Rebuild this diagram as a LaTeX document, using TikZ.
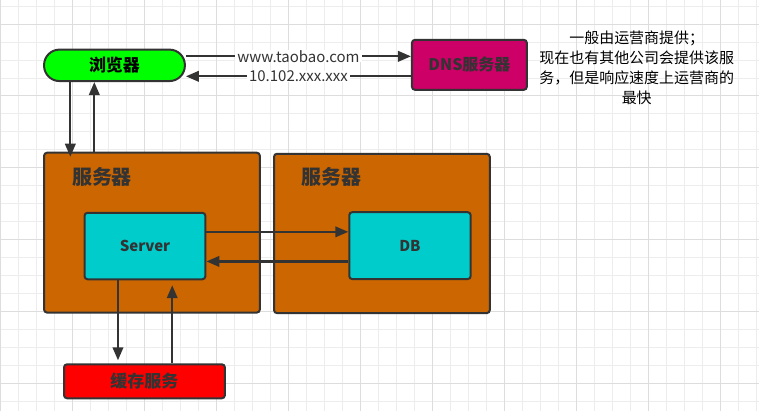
\documentclass[tikz,border=0pt]{standalone}
\usepackage{fontspec}
\setmainfont{Noto Sans CJK SC}
\usetikzlibrary{arrows.meta}
\definecolor{edge}{HTML}{333333}
\definecolor{browsergreen}{HTML}{00FF00}
\definecolor{dnspink}{HTML}{CC0066}
\definecolor{hostbrown}{HTML}{CC6600}
\definecolor{appcyan}{HTML}{00CCCC}
\definecolor{cachered}{HTML}{FF0000}
\definecolor{gridminor}{HTML}{EDEDED}
\definecolor{gridmajor}{HTML}{DDDDDD}

\begin{document}
\begin{tikzpicture}[x=1pt,y=-1pt,
        every node/.style = {inner sep=0pt, text=edge},
        block/.style = {draw=edge, line width=2pt, rounded corners=3pt,
                        font=\bfseries},
        flow/.style = {draw=edge, line width=2.2pt,
                       -{Triangle[length=13pt,width=10.5pt]}},
        tag/.style = {fill=white, inner xsep=2pt, font=\fontsize{15}{18}\selectfont}]
    % background and grid
    \fill[white] (0,0) rectangle (759,411);
    \foreach \i in {0,...,42}
        \draw[gridminor, line width=0.8pt] (0.3+18*\i,0) -- (0.3+18*\i,411);
    \foreach \j in {0,...,22}
        \draw[gridminor, line width=0.8pt] (0,5.6+18*\j) -- (759,5.6+18*\j);
    \foreach \i in {0,4,...,40}
        \draw[gridmajor, line width=0.8pt] (0.3+18*\i,0) -- (0.3+18*\i,411);
    \foreach \j in {1,5,...,21}
        \draw[gridmajor, line width=0.8pt] (0,5.6+18*\j) -- (759,5.6+18*\j);
    \useasboundingbox (0,0) rectangle (759,411);

    % nodes
    \node[block, fill=browsergreen, rounded corners=15.5pt, text=black,
          minimum width=141pt, minimum height=31.5pt,
          font=\bfseries\fontsize{17}{20}\selectfont] (browser) at (114.2,65) {浏览器};
    \node[block, fill=dnspink, minimum width=115pt, minimum height=50pt,
          font=\bfseries\fontsize{16}{20}\selectfont] (dns) at (469.5,64.5) {DNS服务器};
    \node[align=center, text=black, font=\fontsize{15}{20}\selectfont] (note) at (637,67.5)
        {一般由运营商提供；\\现在也有其他公司会提供该服\\务，但是响应速度上运营商的\\最快};
    \node[block, fill=hostbrown, minimum width=216pt, minimum height=160pt] (host1) at (151.7,232.5) {};
    \node[block, fill=hostbrown, minimum width=216pt, minimum height=159.5pt] (host2) at (381.9,233.3) {};
    \node[font=\bfseries\fontsize{20}{24}\selectfont] (hostlbl1) at (101.7,177) {服务器};
    \node[font=\bfseries\fontsize{20}{24}\selectfont] (hostlbl2) at (331.7,176.5) {服务器};
    \node[block, fill=appcyan, minimum width=121pt, minimum height=66.5pt,
          font=\bfseries\fontsize{15}{18}\selectfont] (server) at (144.7,245.9) {Server};
    \node[block, fill=appcyan, minimum width=121.5pt, minimum height=67pt,
          font=\bfseries\fontsize{15}{18}\selectfont] (db) at (410,245.5) {DB};
    \node[block, fill=cachered, minimum width=161pt, minimum height=34pt,
          font=\bfseries\fontsize{17}{20}\selectfont] (cache) at (144.2,381.3) {缓存服务};

    % connectors
    \draw[flow] ([yshift=9pt]browser.east) -- ([yshift=9pt]browser.east -| dns.west)
        node[tag, midway] {www.taobao.com};
    \draw[flow] ([yshift=-11.5pt]dns.west) -- ([yshift=-11.5pt]dns.west -| browser.east)
        node[tag, midway] {10.102.xxx.xxx};
    \draw[flow, shorten >=-5pt] ([xshift=-44.2pt]browser.south) -- ([xshift=-44.2pt]browser.south |- host1.north);
    \draw[flow] ([xshift=-20.2pt]browser.south |- host1.north) -- ([xshift=-20.2pt]browser.south);
    \draw[flow] ([yshift=14.2pt]server.east) -- ([yshift=14.2pt]server.east -| db.west);
    \draw[flow] ([yshift=-15.8pt]db.west) -- ([yshift=-15.8pt]db.west -| server.east);
    \draw[flow, shorten >=3pt] ([xshift=-27pt]server.south) -- ([xshift=-27pt]server.south |- cache.north);
    \draw[flow, shorten >=5pt] ([xshift=27.8pt]cache.north) -- ([xshift=27.8pt]cache.north |- server.south);
\end{tikzpicture}
\end{document}
